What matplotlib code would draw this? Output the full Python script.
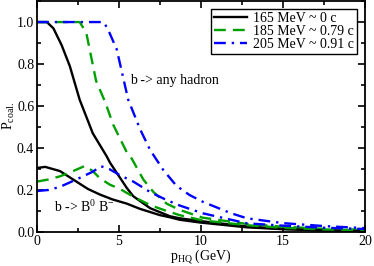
import matplotlib
matplotlib.use("Agg")
import matplotlib.pyplot as plt
from matplotlib.ticker import MultipleLocator

plt.rcParams['font.family'] = ['Liberation Serif', 'DejaVu Serif']
plt.rcParams['mathtext.fontset'] = 'custom'
plt.rcParams['mathtext.rm'] = 'Liberation Serif'

# P_coal vs p_HQ, b -> any hadron
any_165_x = [0, 0.6, 1.0, 1.5, 2.0, 2.6, 3.4, 4.25, 4.45, 5.47, 5.87, 6.9, 8.1, 8.7, 9.94, 12.8, 15, 17.5, 20]
any_165_y = [1.0, 1.0, 0.97, 0.89, 0.79, 0.63, 0.47, 0.36, 0.33, 0.21, 0.17, 0.113, 0.075, 0.065, 0.052, 0.026, 0.015, 0.008, 0.004]
any_185_x = [0, 2.6, 3.0, 3.6, 4.15, 4.65, 5.47, 5.77, 6.48, 7.1, 7.9, 8.7, 10.1, 12.8, 15, 17.5, 20]
any_185_y = [1.0, 1.0, 0.95, 0.72, 0.62, 0.51, 0.38, 0.35, 0.25, 0.19, 0.135, 0.105, 0.068, 0.038, 0.025, 0.015, 0.01]
any_205_x = [0, 4.05, 4.3, 4.86, 5.56, 6.28, 6.9, 7.7, 8.5, 9.3, 10.1, 11.8, 12.8, 15, 17.5, 20]
any_205_y = [1.0, 1.0, 0.97, 0.87, 0.63, 0.49, 0.39, 0.295, 0.22, 0.176, 0.144, 0.09, 0.065, 0.042, 0.028, 0.018]

# b -> B0 B-
b_165_x = [0, 0.5, 1.4, 2.2, 3.1, 3.84, 4.6, 5.47, 6.28, 7.5, 8.1, 8.7, 9.94, 12.8, 15, 17.5, 20]
b_165_y = [0.305, 0.31, 0.29, 0.25, 0.205, 0.178, 0.155, 0.135, 0.11, 0.08, 0.07, 0.058, 0.045, 0.022, 0.013, 0.007, 0.004]
b_185_x = [0, 0.7, 1.4, 2.2, 2.93, 3.4, 3.84, 4.45, 5.06, 5.87, 6.9, 7.9, 8.7, 10.1, 12.8, 15, 17.5, 20]
b_185_y = [0.24, 0.25, 0.265, 0.29, 0.315, 0.29, 0.255, 0.225, 0.205, 0.168, 0.128, 0.1, 0.08, 0.055, 0.032, 0.02, 0.012, 0.008]
b_205_x = [0, 0.7, 1.4, 2.4, 3.4, 3.9, 4.4, 5.06, 5.87, 6.9, 7.9, 8.7, 10.1, 12.8, 15, 17.5, 20]
b_205_y = [0.195, 0.2, 0.215, 0.25, 0.287, 0.313, 0.3, 0.27, 0.24, 0.19, 0.152, 0.126, 0.089, 0.041, 0.03, 0.02, 0.014]

labels = ['165 MeV ~ 0 c', '185 MeV ~ 0.79 c', '205 MeV ~ 0.91 c']
green = '#00a000'
blue = '#0000ff'

fig = plt.figure(figsize=(3.74, 2.66), dpi=100)
ax = fig.add_axes([0.099, 0.128, 0.877, 0.868])

lw = 1.7
dash = (0, (5, 3))
dashdot = (0, (5, 2.5, 1, 2.5))
ax.plot(any_165_x, any_165_y, color='black', lw=lw, label=labels[0])
ax.plot(any_185_x, any_185_y, color=green, lw=lw, ls=dash, label=labels[1])
ax.plot(any_205_x, any_205_y, color=blue, lw=lw, ls=dashdot, label=labels[2])
ax.plot(b_165_x, b_165_y, color='black', lw=lw)
ax.plot(b_185_x, b_185_y, color=green, lw=lw, ls=dash)
ax.plot(b_205_x, b_205_y, color=blue, lw=lw, ls=dashdot)

ax.set_xlim(0, 20)
ax.set_ylim(0, 1.1)
ax.xaxis.set_major_locator(MultipleLocator(5))
ax.xaxis.set_minor_locator(MultipleLocator(2.5))
ax.yaxis.set_major_locator(MultipleLocator(0.2))
ax.yaxis.set_minor_locator(MultipleLocator(0.1))
ax.yaxis.set_major_formatter(plt.FuncFormatter(lambda v, p: '%.1f' % v))
ax.tick_params(which='both', direction='in', top=True, right=True, labelsize=10, width=1.2, pad=2)
ax.tick_params(which='major', length=5)
ax.tick_params(which='minor', length=3)
for s in ax.spines.values():
    s.set_linewidth(1.3)

ax.set_xlabel(r'p$_{\mathrm{HQ}}$ (GeV)', fontsize=10, labelpad=0)
ax.set_ylabel(r'P$_{\mathrm{coal.}}$', fontsize=10, labelpad=0)

ax.text(5.7, 0.72, 'b -> any hadron', fontsize=10, va='center')
ax.text(1.05, 0.12, r'b -> B$^0$ B$^{-}$', fontsize=10, va='center')

leg = ax.legend(loc='upper right', fontsize=10, frameon=True, fancybox=False,
                edgecolor='black', framealpha=1, borderpad=0.2, labelspacing=0.0,
                handlelength=2.4, handletextpad=0.4, borderaxespad=0.6)
leg.get_frame().set_linewidth(1.0)

fig.savefig('out.png', dpi=100)
